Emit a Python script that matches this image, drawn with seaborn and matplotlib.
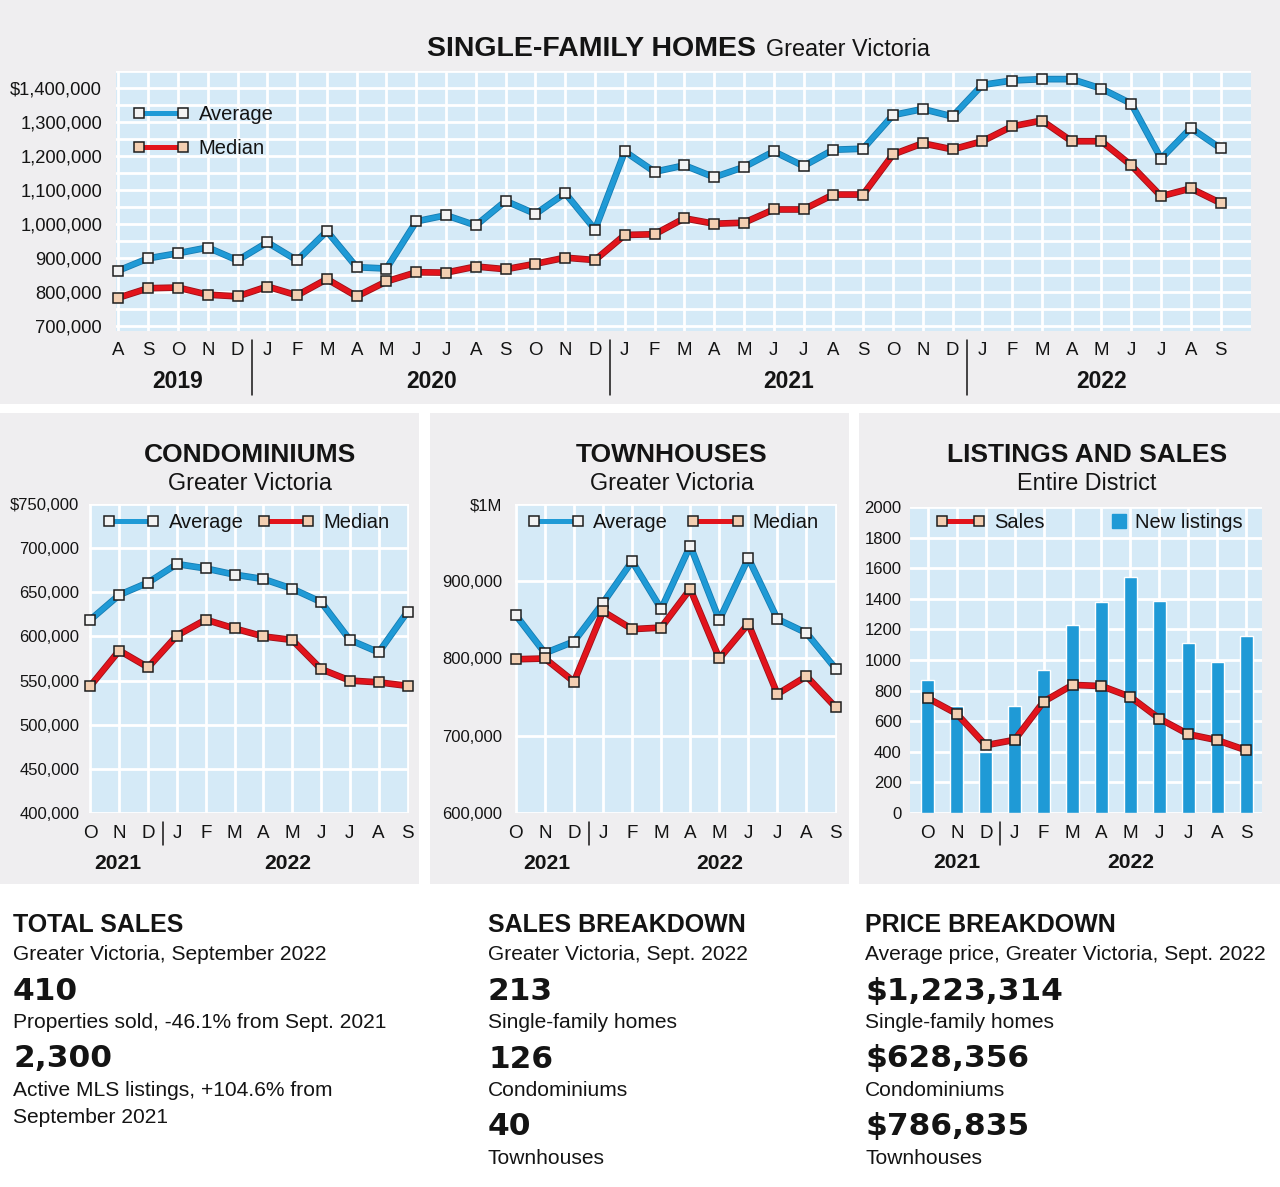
import matplotlib
matplotlib.use("Agg")
import numpy as np
import pandas as pd
import matplotlib.pyplot as plt
import seaborn as sns
import matplotlib.transforms as mtransforms
from matplotlib.lines import Line2D
from matplotlib.patches import Rectangle

# ---- data ----
sf_months = list("ASONDJFMAMJJASONDJFMAMJJASONDJFMAMJJAS")   # Aug 2019 - Sep 2022
sf_years = ["2019", "2020", "2021", "2022"]
sf_average = [863, 899, 914, 931, 893,
              946, 893, 979, 873, 869, 1008, 1026, 996, 1068, 1030, 1091, 984,
              1214, 1154, 1173, 1138, 1168, 1214, 1171, 1219, 1222, 1321, 1339, 1317,
              1410, 1423, 1427, 1427, 1399, 1355, 1193, 1283, 1223]
sf_median = [783, 811, 813, 792, 787,
             816, 790, 838, 787, 831, 858, 857, 875, 867, 883, 901, 894,
             968, 970, 1017, 1001, 1004, 1043, 1043, 1087, 1087, 1205, 1238, 1220,
             1244, 1288, 1305, 1244, 1244, 1173, 1082, 1105, 1062]
sf_ytick_labels = ["700,000", "800,000", "900,000", "1,000,000", "1,100,000",
                   "1,200,000", "1,300,000", "$1,400,000"]

sub_months = ["O", "N", "D", "J", "F", "M", "A", "M", "J", "J", "A", "S"]  # Oct 2021 - Sep 2022
sub_years = ["2021", "2022"]

condo_average = [619, 647, 661, 682, 677, 670, 665, 654, 639, 596, 582, 628]
condo_median = [544, 584, 565, 601, 619, 609, 600, 596, 563, 550, 548, 544]
condo_ytick_labels = ["400,000", "450,000", "500,000", "550,000", "600,000",
                      "650,000", "700,000", "$750,000"]

town_average = [856, 807, 822, 872, 926, 864, 946, 850, 930, 851, 833, 787]
town_median = [799, 800, 770, 861, 838, 840, 890, 800, 845, 754, 777, 737]
town_ytick_labels = ["600,000", "700,000", "800,000", "900,000", "$1M"]

new_listings = [870, 700, 400, 700, 935, 1230, 1380, 1540, 1385, 1110, 990, 1160]
sales = [750, 648, 443, 478, 728, 837, 830, 759, 617, 515, 476, 410]

total_sales_lines = ["410", "Properties sold, -46.1% from Sept. 2021",
                     "2,300", "Active MLS listings, +104.6% from", "September 2021"]
breakdown_numbers = ["213", "126", "40"]
price_numbers = ["$1,223,314", "$628,356", "$786,835"]
breakdown_labels = ["Single-family homes", "Condominiums", "Townhouses"]

# ---- style ----
BLUE = "#1f9ad6"
BLUE_DARK = "#167db3"
RED = "#e2141c"
RED_DARK = "#9e1018"
FACE_BLUE = "#f3f3f3"
FACE_RED = "#f3cfb2"
EDGE = "#1e1e1e"
PLOT_BG = "#d5eaf7"
PANEL = "#efeef0"
INK = "#141414"

sns.set_theme(style="white")
plt.rcParams["font.family"] = ["Liberation Sans", "DejaVu Sans"]
plt.rcParams["text.color"] = INK

W, H = 1280, 1187
fig = plt.figure(figsize=(W / 100, H / 100), dpi=100, facecolor="white")


def px_axes(x0, y0, x1, y1):
    return fig.add_axes([x0 / W, 1 - y1 / H, (x1 - x0) / W, (y1 - y0) / H])


def ptext(x, y, s, **kw):
    return fig.text(x / W, 1 - y / H, s, **kw)


def panel(x0, y0, x1, y1):
    fig.add_artist(Rectangle((x0 / W, 1 - y1 / H), (x1 - x0) / W, (y1 - y0) / H,
                             transform=fig.transFigure, facecolor=PANEL,
                             edgecolor="none", zorder=-5))


def style_ax(ax):
    ax.set_facecolor(PLOT_BG)
    for s in ax.spines.values():
        s.set_visible(False)
    ax.set_axisbelow(True)
    ax.tick_params(which="both", length=0, colors=INK)


def series(ax, x, y, color, dark, face):
    # darker rim under the coloured line, then line with square markers
    sns.lineplot(x=x, y=y, ax=ax, color=dark, linewidth=4.8, zorder=3, clip_on=False)
    sns.lineplot(x=x, y=y, ax=ax, color=color, linewidth=3.6, marker="s",
                 markersize=6.9, markerfacecolor=face, markeredgecolor=EDGE,
                 markeredgewidth=1.1, zorder=4, clip_on=False)


def handle(color, face):
    return Line2D([], [], color=color, lw=3.6, marker="s", ms=6.9,
                  mfc=face, mec=EDGE, mew=1.1)


def pair_legend(ax, anchor, ncol, spacing):
    return ax.legend(handles=[handle(BLUE, FACE_BLUE), handle(RED, FACE_RED)],
                     labels=["Average", "Median"], loc="center left" if ncol == 2 else "upper left",
                     bbox_to_anchor=anchor, frameon=False, fontsize=14.5, ncol=ncol,
                     handlelength=2.8, handletextpad=0.45, columnspacing=spacing,
                     labelspacing=0.75, borderpad=0, borderaxespad=0, numpoints=2)


def year_row(ax, seps, centers, labels, sep_y, year_y, size):
    tr = mtransforms.blended_transform_factory(ax.transData, ax.transAxes)
    for s in seps:
        ax.plot([s, s], sep_y, color=INK, lw=1.1, transform=tr, clip_on=False)
    for c, lab in zip(centers, labels):
        ax.text(c, year_y, lab, transform=tr, ha="center", va="center",
                fontsize=size, fontweight="bold")


# ---- background panels ----
panel(0, 0, 1280, 404)
panel(0, 413, 419, 884)
panel(430, 413, 849, 884)
panel(859, 413, 1280, 884)

# ---- single-family homes ----
t = ptext(427, 56, "SINGLE-FAMILY HOMES", fontsize=20.5, fontweight="bold", va="baseline")
fig.canvas.draw()
bb = t.get_window_extent(renderer=fig.canvas.get_renderer())
ptext(bb.x1 + 10, 56, "Greater Victoria", fontsize=16.8, va="baseline")

ax = px_axes(116, 71, 1251, 331)
style_ax(ax)
x_sf = np.arange(len(sf_months))
series(ax, x_sf, np.array(sf_average) * 1000, BLUE, BLUE_DARK, FACE_BLUE)
series(ax, x_sf, np.array(sf_median) * 1000, RED, RED_DARK, FACE_RED)
ax.set_xlim(-0.08, len(sf_months) + 0.02)
ax.set_ylim(685000, 1451000)
ax.set_xticks(x_sf)
ax.set_xticklabels(sf_months, fontsize=13.4)
ax.set_yticks(np.arange(700000, 1400001, 100000))
ax.set_yticklabels(sf_ytick_labels, fontsize=13.2)
ax.set_yticks(np.arange(750000, 1450001, 100000), minor=True)
ax.grid(True, which="major", color="white", linewidth=2)
ax.grid(True, which="minor", axis="y", color="white", linewidth=2)
ax.tick_params(axis="x", pad=8)
ax.tick_params(axis="y", pad=10)
ax.set_xlabel("")
ax.set_ylabel("")
pair_legend(ax, (0.015, 0.87), 1, 0)
year_row(ax, [4.5, 16.5, 28.5], [2, 10.5, 22.5, 33], sf_years,
         (-0.035, -0.246), -0.195, 16.5)


# ---- small panels ----
def small_panel(box, title, subtitle, cx):
    ptext(cx, 462, title, fontsize=19, fontweight="bold", ha="center", va="baseline")
    ptext(cx, 490, subtitle, fontsize=16.8, ha="center", va="baseline")
    a = px_axes(*box)
    style_ax(a)
    return a


def finish_small(a, xlim, ylim, yticks, ylabels, ypad, year_x):
    x = np.arange(len(sub_months))
    a.set_xlim(*xlim)
    a.set_ylim(*ylim)
    a.set_xticks(x)
    a.set_xticklabels(sub_months, fontsize=13.6)
    a.set_yticks(yticks)
    a.set_yticklabels(ylabels, fontsize=12)
    a.grid(True, which="major", color="white", linewidth=2)
    a.tick_params(axis="x", pad=9)
    a.tick_params(axis="y", pad=ypad)
    a.set_xlabel("")
    a.set_ylabel("")
    year_row(a, [2.5], year_x, sub_years, (-0.03, -0.105), -0.163, 15.2)


x_sub = np.arange(len(sub_months))

# condominiums
ax_c = small_panel((89, 504, 409, 813), "CONDOMINIUMS", "Greater Victoria", 250)
series(ax_c, x_sub, np.array(condo_average) * 1000, BLUE, BLUE_DARK, FACE_BLUE)
series(ax_c, x_sub, np.array(condo_median) * 1000, RED, RED_DARK, FACE_RED)
finish_small(ax_c, (-0.05, 11.05), (400000, 750000),
             np.arange(400000, 750001, 50000), condo_ytick_labels, 7, [0.95, 6.85])
pair_legend(ax_c, (0.044, 0.94), 2, 0.7)

# townhouses
ax_t = small_panel((515, 504, 837, 813), "TOWNHOUSES", "Greater Victoria", 672)
series(ax_t, x_sub, np.array(town_average) * 1000, BLUE, BLUE_DARK, FACE_BLUE)
series(ax_t, x_sub, np.array(town_median) * 1000, RED, RED_DARK, FACE_RED)
finish_small(ax_t, (-0.03, 11.05), (600000, 1000000),
             np.arange(600000, 1000001, 100000), town_ytick_labels, 9, [1.05, 7])
pair_legend(ax_t, (0.04, 0.94), 2, 0.95)

# listings and sales
ax_l = small_panel((910, 507, 1262, 813), "LISTINGS AND SALES", "Entire District", 1087)
sns.barplot(x=x_sub, y=new_listings, ax=ax_l, color=BLUE, saturation=1,
            width=0.45, errorbar=None, zorder=2)
series(ax_l, x_sub, sales, RED, RED_DARK, FACE_RED)
finish_small(ax_l, (-0.62, 11.55), (0, 2000), np.arange(0, 2001, 200),
             [str(v) for v in range(0, 2001, 200)], 6, [1, 7])
leg_sales = ax_l.legend(handles=[handle(RED, FACE_RED)], labels=["Sales"],
                        loc="center left", bbox_to_anchor=(0.074, 0.95), frameon=False,
                        fontsize=14.5, handlelength=2.45, handletextpad=0.45,
                        borderpad=0, borderaxespad=0, numpoints=2)
ax_l.add_artist(leg_sales)
h_new = Line2D([], [], linestyle="none", marker="s", ms=10, mfc=BLUE, mec=BLUE)
ax_l.legend(handles=[h_new], labels=["New listings"], loc="center left",
            bbox_to_anchor=(0.572, 0.95), frameon=False, fontsize=14.5,
            handlelength=0.8, handletextpad=0.35, borderpad=0, borderaxespad=0,
            numpoints=1)

# ---- text blocks at the bottom ----
HEAD = dict(fontsize=18, fontweight="bold", va="baseline")
SUB = dict(fontsize=15.1, va="baseline")
BIG = dict(fontsize=22.5, fontweight="bold", family=["DejaVu Sans"], va="baseline")

ptext(13, 932, "TOTAL SALES", **HEAD)
ptext(13, 960, "Greater Victoria, September 2022", **SUB)
ptext(13, 1000, total_sales_lines[0], **BIG)
ptext(13, 1028, total_sales_lines[1], **SUB)
ptext(13, 1067, total_sales_lines[2], **BIG)
ptext(13, 1096, total_sales_lines[3], **SUB)
ptext(13, 1123, total_sales_lines[4], **SUB)

for x0, head, sub, nums in [(488, "SALES BREAKDOWN", "Greater Victoria, Sept. 2022", breakdown_numbers),
                            (865, "PRICE BREAKDOWN", "Average price, Greater Victoria, Sept. 2022", price_numbers)]:
    ptext(x0, 932, head, **HEAD)
    ptext(x0, 960, sub, **SUB)
    for i, (n, lab) in enumerate(zip(nums, breakdown_labels)):
        ptext(x0, 1000 + 67.5 * i, n, **BIG)
        ptext(x0, 1028 + 68 * i, lab, **SUB)

fig.savefig("out.png", dpi=100, facecolor="white")
